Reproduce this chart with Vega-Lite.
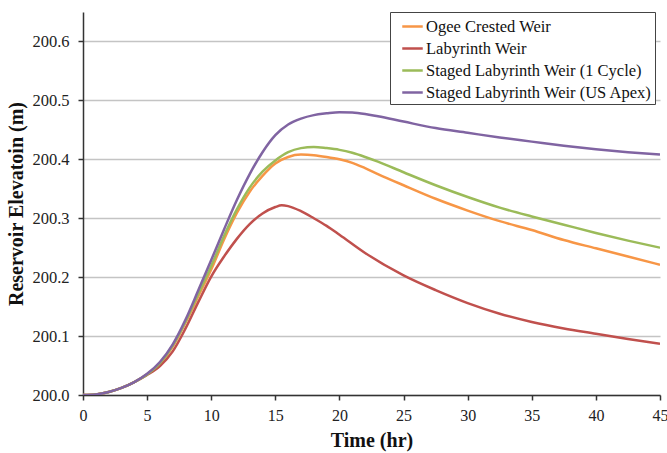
{
  "$schema": "https://vega.github.io/schema/vega-lite/v6.json",
  "width": 577,
  "height": 383,
  "autosize": {"type": "none"},
  "padding": {"left": 83, "top": 12, "right": 7, "bottom": 58},
  "background": "white",
  "config": {
    "view": {"stroke": null},
    "font": "Liberation Serif",
    "axis": {"labelFont": "Liberation Serif", "titleFont": "Liberation Serif"},
    "legend": {"labelFont": "Liberation Serif", "titleFont": "Liberation Serif"},
    "text": {"font": "Liberation Serif"}
  },
  "data": {
    "values": [
      {"s":"Ogee Crested Weir","t":0,"y":200.000},{"s":"Ogee Crested Weir","t":1,"y":200.001},{"s":"Ogee Crested Weir","t":2,"y":200.005},{"s":"Ogee Crested Weir","t":3,"y":200.012},{"s":"Ogee Crested Weir","t":4,"y":200.022},{"s":"Ogee Crested Weir","t":5,"y":200.035},{"s":"Ogee Crested Weir","t":6,"y":200.053},{"s":"Ogee Crested Weir","t":7,"y":200.082},{"s":"Ogee Crested Weir","t":8,"y":200.123},{"s":"Ogee Crested Weir","t":9,"y":200.168},{"s":"Ogee Crested Weir","t":10,"y":200.213},{"s":"Ogee Crested Weir","t":11,"y":200.264},{"s":"Ogee Crested Weir","t":12,"y":200.309},{"s":"Ogee Crested Weir","t":13,"y":200.345},{"s":"Ogee Crested Weir","t":14,"y":200.372},{"s":"Ogee Crested Weir","t":15,"y":200.393},{"s":"Ogee Crested Weir","t":16,"y":200.404},{"s":"Ogee Crested Weir","t":17,"y":200.408},{"s":"Ogee Crested Weir","t":18,"y":200.407},{"s":"Ogee Crested Weir","t":19,"y":200.404},{"s":"Ogee Crested Weir","t":20,"y":200.400},{"s":"Ogee Crested Weir","t":21,"y":200.394},{"s":"Ogee Crested Weir","t":22,"y":200.385},{"s":"Ogee Crested Weir","t":23,"y":200.375},{"s":"Ogee Crested Weir","t":25,"y":200.356},{"s":"Ogee Crested Weir","t":27.5,"y":200.333},{"s":"Ogee Crested Weir","t":30,"y":200.313},{"s":"Ogee Crested Weir","t":32.5,"y":200.295},{"s":"Ogee Crested Weir","t":35,"y":200.280},{"s":"Ogee Crested Weir","t":37.5,"y":200.263},{"s":"Ogee Crested Weir","t":40,"y":200.249},{"s":"Ogee Crested Weir","t":42.5,"y":200.235},{"s":"Ogee Crested Weir","t":45,"y":200.221},

      {"s":"Labyrinth Weir","t":0,"y":200.000},{"s":"Labyrinth Weir","t":1,"y":200.001},{"s":"Labyrinth Weir","t":2,"y":200.005},{"s":"Labyrinth Weir","t":3,"y":200.012},{"s":"Labyrinth Weir","t":4,"y":200.022},{"s":"Labyrinth Weir","t":5,"y":200.034},{"s":"Labyrinth Weir","t":6,"y":200.049},{"s":"Labyrinth Weir","t":7,"y":200.074},{"s":"Labyrinth Weir","t":8,"y":200.113},{"s":"Labyrinth Weir","t":9,"y":200.158},{"s":"Labyrinth Weir","t":10,"y":200.201},{"s":"Labyrinth Weir","t":11,"y":200.235},{"s":"Labyrinth Weir","t":12,"y":200.265},{"s":"Labyrinth Weir","t":13,"y":200.290},{"s":"Labyrinth Weir","t":14,"y":200.308},{"s":"Labyrinth Weir","t":15,"y":200.319},{"s":"Labyrinth Weir","t":15.5,"y":200.322},{"s":"Labyrinth Weir","t":16,"y":200.3205},{"s":"Labyrinth Weir","t":17,"y":200.312},{"s":"Labyrinth Weir","t":18,"y":200.300},{"s":"Labyrinth Weir","t":19,"y":200.287},{"s":"Labyrinth Weir","t":20,"y":200.272},{"s":"Labyrinth Weir","t":22,"y":200.241},{"s":"Labyrinth Weir","t":25,"y":200.203},{"s":"Labyrinth Weir","t":27.5,"y":200.178},{"s":"Labyrinth Weir","t":30,"y":200.156},{"s":"Labyrinth Weir","t":32.5,"y":200.138},{"s":"Labyrinth Weir","t":35,"y":200.124},{"s":"Labyrinth Weir","t":37.5,"y":200.113},{"s":"Labyrinth Weir","t":40,"y":200.104},{"s":"Labyrinth Weir","t":42.5,"y":200.095},{"s":"Labyrinth Weir","t":45,"y":200.087},

      {"s":"Staged Labyrinth Weir (1 Cycle)","t":0,"y":200.000},{"s":"Staged Labyrinth Weir (1 Cycle)","t":1,"y":200.001},{"s":"Staged Labyrinth Weir (1 Cycle)","t":2,"y":200.005},{"s":"Staged Labyrinth Weir (1 Cycle)","t":3,"y":200.012},{"s":"Staged Labyrinth Weir (1 Cycle)","t":4,"y":200.022},{"s":"Staged Labyrinth Weir (1 Cycle)","t":5,"y":200.035},{"s":"Staged Labyrinth Weir (1 Cycle)","t":6,"y":200.054},{"s":"Staged Labyrinth Weir (1 Cycle)","t":7,"y":200.084},{"s":"Staged Labyrinth Weir (1 Cycle)","t":8,"y":200.125},{"s":"Staged Labyrinth Weir (1 Cycle)","t":9,"y":200.172},{"s":"Staged Labyrinth Weir (1 Cycle)","t":10,"y":200.219},{"s":"Staged Labyrinth Weir (1 Cycle)","t":11,"y":200.270},{"s":"Staged Labyrinth Weir (1 Cycle)","t":12,"y":200.315},{"s":"Staged Labyrinth Weir (1 Cycle)","t":13,"y":200.352},{"s":"Staged Labyrinth Weir (1 Cycle)","t":14,"y":200.379},{"s":"Staged Labyrinth Weir (1 Cycle)","t":15,"y":200.398},{"s":"Staged Labyrinth Weir (1 Cycle)","t":16,"y":200.412},{"s":"Staged Labyrinth Weir (1 Cycle)","t":17,"y":200.419},{"s":"Staged Labyrinth Weir (1 Cycle)","t":18,"y":200.421},{"s":"Staged Labyrinth Weir (1 Cycle)","t":19,"y":200.419},{"s":"Staged Labyrinth Weir (1 Cycle)","t":20,"y":200.416},{"s":"Staged Labyrinth Weir (1 Cycle)","t":21,"y":200.411},{"s":"Staged Labyrinth Weir (1 Cycle)","t":22,"y":200.404},{"s":"Staged Labyrinth Weir (1 Cycle)","t":23,"y":200.396},{"s":"Staged Labyrinth Weir (1 Cycle)","t":25,"y":200.378},{"s":"Staged Labyrinth Weir (1 Cycle)","t":27.5,"y":200.356},{"s":"Staged Labyrinth Weir (1 Cycle)","t":30,"y":200.336},{"s":"Staged Labyrinth Weir (1 Cycle)","t":32.5,"y":200.318},{"s":"Staged Labyrinth Weir (1 Cycle)","t":35,"y":200.303},{"s":"Staged Labyrinth Weir (1 Cycle)","t":37.5,"y":200.289},{"s":"Staged Labyrinth Weir (1 Cycle)","t":40,"y":200.275},{"s":"Staged Labyrinth Weir (1 Cycle)","t":42.5,"y":200.262},{"s":"Staged Labyrinth Weir (1 Cycle)","t":45,"y":200.250},

      {"s":"Staged Labyrinth Weir (US Apex)","t":0,"y":200.000},{"s":"Staged Labyrinth Weir (US Apex)","t":1,"y":200.001},{"s":"Staged Labyrinth Weir (US Apex)","t":2,"y":200.005},{"s":"Staged Labyrinth Weir (US Apex)","t":3,"y":200.012},{"s":"Staged Labyrinth Weir (US Apex)","t":4,"y":200.022},{"s":"Staged Labyrinth Weir (US Apex)","t":5,"y":200.036},{"s":"Staged Labyrinth Weir (US Apex)","t":6,"y":200.056},{"s":"Staged Labyrinth Weir (US Apex)","t":7,"y":200.086},{"s":"Staged Labyrinth Weir (US Apex)","t":8,"y":200.128},{"s":"Staged Labyrinth Weir (US Apex)","t":9,"y":200.178},{"s":"Staged Labyrinth Weir (US Apex)","t":10,"y":200.229},{"s":"Staged Labyrinth Weir (US Apex)","t":11,"y":200.281},{"s":"Staged Labyrinth Weir (US Apex)","t":12,"y":200.331},{"s":"Staged Labyrinth Weir (US Apex)","t":13,"y":200.375},{"s":"Staged Labyrinth Weir (US Apex)","t":14,"y":200.412},{"s":"Staged Labyrinth Weir (US Apex)","t":15,"y":200.441},{"s":"Staged Labyrinth Weir (US Apex)","t":16,"y":200.459},{"s":"Staged Labyrinth Weir (US Apex)","t":17,"y":200.469},{"s":"Staged Labyrinth Weir (US Apex)","t":18,"y":200.475},{"s":"Staged Labyrinth Weir (US Apex)","t":19,"y":200.478},{"s":"Staged Labyrinth Weir (US Apex)","t":20,"y":200.480},{"s":"Staged Labyrinth Weir (US Apex)","t":21,"y":200.4795},{"s":"Staged Labyrinth Weir (US Apex)","t":22,"y":200.477},{"s":"Staged Labyrinth Weir (US Apex)","t":23,"y":200.473},{"s":"Staged Labyrinth Weir (US Apex)","t":25,"y":200.464},{"s":"Staged Labyrinth Weir (US Apex)","t":27.5,"y":200.453},{"s":"Staged Labyrinth Weir (US Apex)","t":30,"y":200.445},{"s":"Staged Labyrinth Weir (US Apex)","t":32.5,"y":200.437},{"s":"Staged Labyrinth Weir (US Apex)","t":35,"y":200.430},{"s":"Staged Labyrinth Weir (US Apex)","t":37.5,"y":200.423},{"s":"Staged Labyrinth Weir (US Apex)","t":40,"y":200.417},{"s":"Staged Labyrinth Weir (US Apex)","t":42.5,"y":200.412},{"s":"Staged Labyrinth Weir (US Apex)","t":45,"y":200.408}
    ]
  },
  "mark": {"type": "line", "interpolate": "monotone", "strokeWidth": 2.5, "clip": true},
  "encoding": {
    "x": {
      "field": "t", "type": "quantitative",
      "scale": {"domain": [0, 45], "nice": false, "zero": false},
      "axis": {
        "title": "Time (hr)", "values": [0,5,10,15,20,25,30,35,40,45], "format": "d",
        "grid": false, "domainColor": "#333333", "domainWidth": 1.5, "tickColor": "#333333", "tickWidth": 1.5, "tickSize": 5,
        "labelFont": "Liberation Serif", "labelFontSize": 16, "labelColor": "#222222", "labelPadding": 7, "labelFlush": false,
        "titleFont": "Liberation Serif", "titleFontSize": 20, "titleFontWeight": "bold", "titleColor": "#111111", "titlePadding": 7
      }
    },
    "y": {
      "field": "y", "type": "quantitative",
      "scale": {"domain": [200.0, 200.65], "nice": false, "zero": false},
      "axis": {
        "title": "Reservoir Elevatoin (m)", "values": [200.0,200.1,200.2,200.3,200.4,200.5,200.6], "format": ".1f",
        "grid": true, "gridColor": "#c4c4c4", "gridWidth": 1.4,
        "domainColor": "#333333", "domainWidth": 1.5, "tickColor": "#333333", "tickWidth": 1.5, "tickSize": 5,
        "labelFont": "Liberation Serif", "labelFontSize": 16.5, "labelColor": "#222222", "labelPadding": 9,
        "titleFont": "Liberation Serif", "titleFontSize": 20, "titleFontWeight": "bold", "titleColor": "#111111", "titlePadding": 5
      }
    },
    "color": {
      "field": "s", "type": "nominal", "sort": null,
      "scale": {
        "domain": ["Ogee Crested Weir", "Labyrinth Weir", "Staged Labyrinth Weir (1 Cycle)", "Staged Labyrinth Weir (US Apex)"],
        "range": ["#F79646", "#C0504D", "#9BBB59", "#8064A2"]
      },
      "legend": {
        "title": null, "orient": "none", "legendX": 307, "legendY": 0,
        "symbolType": "stroke", "symbolSize": 420, "symbolStrokeWidth": 2.5, "symbolOffset": 8,
        "labelFont": "Liberation Serif", "labelFontSize": 16.5, "labelColor": "#111111", "labelLimit": 320,
        "rowPadding": 2, "labelOffset": 2,
        "strokeColor": "#444444", "fillColor": "white", "padding": 3
      }
    }
  }
}
